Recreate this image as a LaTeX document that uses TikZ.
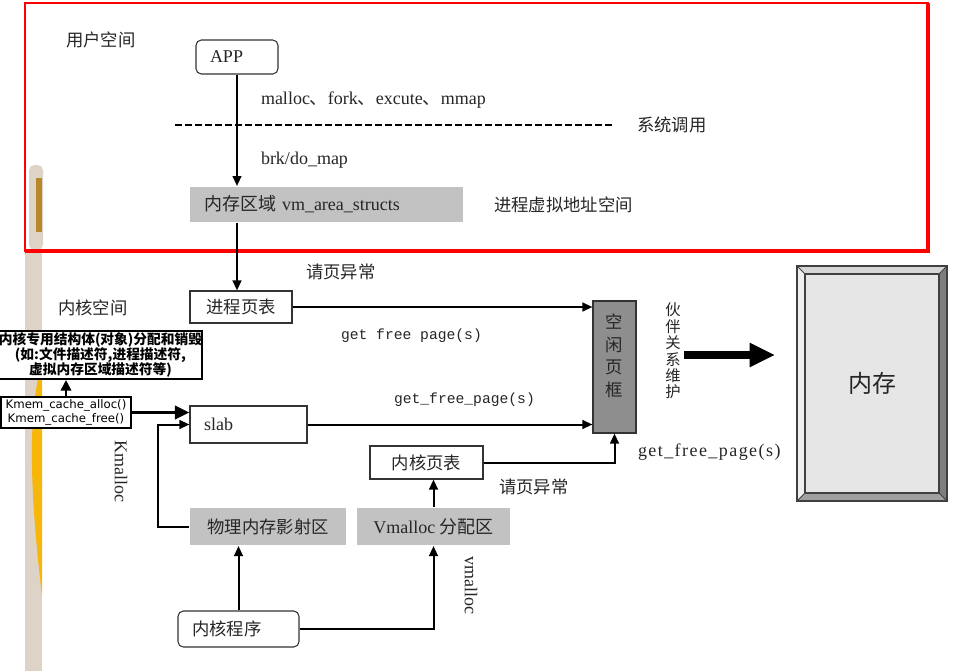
\documentclass[tikz,border=0pt]{standalone}
\usepackage{fontspec}
\setmainfont{Liberation Serif}
\setsansfont{DejaVu Sans}
\setmonofont{Liberation Mono}
\newfontfamily\cjk{Noto Sans CJK SC}
\usepackage{xcolor}
\usepackage{tikz}
\usetikzlibrary{arrows.meta,positioning,calc}

\definecolor{areagray}{HTML}{C2C2C2}
\definecolor{framegray}{HTML}{8E8E8E}
\definecolor{memgray}{HTML}{E6E6E6}
\definecolor{bevelpale}{HTML}{EFEFEF}
\definecolor{bevellight}{HTML}{D6D6D6}
\definecolor{bevelmid}{HTML}{A0A0A0}
\definecolor{beveldark}{HTML}{7E7E7E}
\definecolor{stripbeige}{HTML}{DDD4C7}
\definecolor{stripgold}{HTML}{F6B60A}
\definecolor{stripbrown}{HTML}{B8862B}

\begin{document}
\begin{tikzpicture}[
    x=0.75pt, y=-0.75pt,
    node distance=6.75pt and 6.75pt,
    >={Triangle[length=7.5pt,width=6.5pt]},
    line width=1.5pt,
    every node/.style={font=\fontsize{13.5}{15}\selectfont, inner sep=0pt, text=black!85},
    plainbox/.style={
        draw=black!80,
        line width=0.8pt,
        rectangle,
        fill=white,
        align=center
    },
    roundbox/.style={
        plainbox,
        rounded corners=4pt
    },
    areabox/.style={
        rectangle,
        fill=areagray,
        align=center
    },
    notebox/.style={
        draw=black,
        line width=1.6pt,
        fill=white,
        align=center,
        text=black,
        font=\cjk\bfseries\fontsize{10.3}{11.4}\selectfont
    },
    cjkfont/.style={font=\cjk\fontsize{13}{15}\selectfont},
    txt/.style={anchor=west},
    cjktxt/.style={anchor=west, cjkfont},
    mono/.style={anchor=west, font=\ttfamily\fontsize{11}{13}\selectfont},
    flow/.style={->, line width=1.5pt}
]

% ==========================================================
% BACKGROUND
% ==========================================================
\useasboundingbox (0,0) rectangle (956,671);
\fill[white] (0,0) rectangle (956,671);
\fill[stripbeige] (25,252) rectangle (42,671);
\fill[stripgold] (42,363) .. controls (29,405) and (28,480) .. (42,595) -- cycle;
\fill[stripbeige, rounded corners=4pt] (29,165) rectangle (43,250);
\fill[stripbrown] (36,178) rectangle (42,232);
\draw[red, line width=1pt] (25,3) rectangle (928,251);
\draw[red, line width=2.5pt] (25,251) -- (928,251) -- (928,3);

% ==========================================================
% USER SPACE
% ==========================================================
\node[cjktxt] (userspace) at (65,40) {用户空间};
\node[roundbox, minimum width=61.5pt, minimum height=25.5pt, text width=40.5pt,
      align=left, inner xsep=10.5pt] (app) at (237,57) {APP};

\node[txt] (calls) at (260,100) {malloc{\cjk 、}fork{\cjk 、}excute{\cjk 、}mmap};
\node[cjktxt] (syscall) at (636,125) {系统调用};
\coordinate (dashstart) at (175,125);
\draw[line width=1.1pt, dash pattern=on 5pt off 2.5pt] (dashstart) -- ([xshift=-18pt]syscall.west);
\node[txt] (brk) at (260,160) {brk/do\_map};

\node[areabox, minimum width=204.75pt, minimum height=26.25pt, text width=183.75pt,
      align=left, inner xsep=10.5pt] (vm) at (326.5,204.5) {{\cjk 内存区域} vm\_area\_structs};
\node[cjktxt, right=21.75pt of vm] (vaspace) {进程虚拟地址空间};

% ==========================================================
% KERNEL SPACE
% ==========================================================
\node[cjktxt] (fault1) at (305,272) {请页异常};
\node[cjktxt] (kernelspace) at (57,308) {内核空间};
\node[plainbox, cjkfont, minimum width=76.5pt, minimum height=24pt] (ptab) at (241,307) {进程页表};

\node[plainbox, fill=framegray, minimum width=32.25pt, minimum height=99pt,
      font=\cjk\fontsize{13}{17}\selectfont] (free) at (614.5,367) {空\\闲\\页\\框\\\phantom{框}};
\node[align=center, font=\cjk\fontsize{11.5}{12.3}\selectfont] (buddy) at (673,351) {伙\\伴\\关\\系\\维\\护};

\node[rectangle, fill=memgray, minimum width=111pt, minimum height=174.75pt,
      font=\cjk\fontsize{18}{20}\selectfont] (mem) at (872,383.5) {内存};

\node[notebox, minimum width=149.25pt, minimum height=36pt] (objs) at (100.5,355)
    {内核专用结构体(对象)分配和销毁\\(如:文件描述符,进程描述符,\\虚拟内存区域描述符等)};
\node[notebox, font=\sffamily\fontsize{8.8}{10.5}\selectfont, minimum width=97.5pt,
      minimum height=23.25pt] (kmem) at (66,412.5) {Kmem\_cache\_alloc()\\Kmem\_cache\_free()};

\node[plainbox, minimum width=87.75pt, minimum height=27.75pt, text width=66.75pt,
      align=left, inner xsep=10.5pt] (slab) at (248.5,424.5) {slab};
\node[plainbox, cjkfont, minimum width=84.75pt, minimum height=24.75pt] (kptab) at (426.5,462.5) {内核页表};

\node[areabox, cjkfont, minimum width=117pt, minimum height=27.75pt] (phys) at (268,526.5) {物理内存影射区};
\node[areabox, minimum width=114.75pt, minimum height=27.75pt, right=6.75pt of phys] (vmal) {Vmalloc {\cjk 分配区}};

\node[roundbox, cjkfont, minimum width=90.75pt, minimum height=27pt, text width=69.75pt,
      align=left, inner xsep=10.5pt] (kprog) at (238.5,629) {内核程序};

% labels
\node[mono] (gfp1) at (340,336) {get free page(s)};
\node[mono] (gfp2) at (393,400) {get\_free\_page(s)};
\node[txt] (gfp3) at (637,452) {\addfontfeature{LetterSpace=8}get\_free\_page(s)};
\node[cjktxt] (fault2) at (498,487) {请页异常};
\node[rotate=-90] (kmalloc) at (121,471) {Kmalloc};
\node[rotate=-90] (vmalloc) at (471,585) {vmalloc};

% ==========================================================
% MEMORY FRAME
% ==========================================================
\fill[bevellight] (mem.north west) -- (mem.north east) -- ($(mem.north east)+(-8,8)$) -- ($(mem.north west)+(8,8)$) -- cycle;
\fill[bevelpale] (mem.north west) -- (mem.south west) -- ($(mem.south west)+(8,-8)$) -- ($(mem.north west)+(8,8)$) -- cycle;
\fill[beveldark] (mem.north east) -- (mem.south east) -- ($(mem.south east)+(-8,-8)$) -- ($(mem.north east)+(-8,8)$) -- cycle;
\fill[bevelmid] (mem.south west) -- (mem.south east) -- ($(mem.south east)+(-8,-8)$) -- ($(mem.south west)+(8,-8)$) -- cycle;
\draw[black!75, line width=0.8pt] (mem.north west) rectangle (mem.south east);
\draw[black!75, line width=0.8pt] ($(mem.north west)+(8,8)$) rectangle ($(mem.south east)+(-8,-8)$);
\draw[black!75, line width=0.6pt] (mem.north west) -- ++(8,8) (mem.north east) -- ++(-8,8)
    (mem.south west) -- ++(8,-8) (mem.south east) -- ++(-8,-8);

% ==========================================================
% CONNECTIONS
% ==========================================================
\draw[flow] (app.south) -- (app.south |- vm.north);
\draw[flow] (app.south |- vm.south) -- (app.south |- ptab.north);
\draw[flow] (ptab.east) -- (ptab.east -| free.west);
\draw[flow] (slab.east) -- (slab.east -| free.west);
\draw[flow] (kptab.east) -| (free.south);
\draw[flow] (vmal.north) -- (vmal.north |- kptab.south);
\draw[flow] (kprog.north) -- (kprog.north |- phys.south);
\draw[flow] (kprog.east) -| (vmal.south);

\coordinate (kmbend) at (158,0);
\draw[flow] (phys.west) -| (kmbend |- slab.west) -- (slab.west);

\draw[->, line width=1.5pt, >={Triangle[length=8pt,width=8pt]}] (kmem.north) -- (kmem.north |- objs.south);
\draw[->, line width=2.2pt, >={Triangle[length=11pt,width=10pt]}] (kmem.east) -- (kmem.east -| slab.west);

\draw[-{Triangle[length=19pt,width=17pt]}, line width=6pt]
    ([xshift=2pt,yshift=-3pt]buddy.east) -- ($(mem.west |- buddy.east)+(-22,4)$);

\end{tikzpicture}
\end{document}
